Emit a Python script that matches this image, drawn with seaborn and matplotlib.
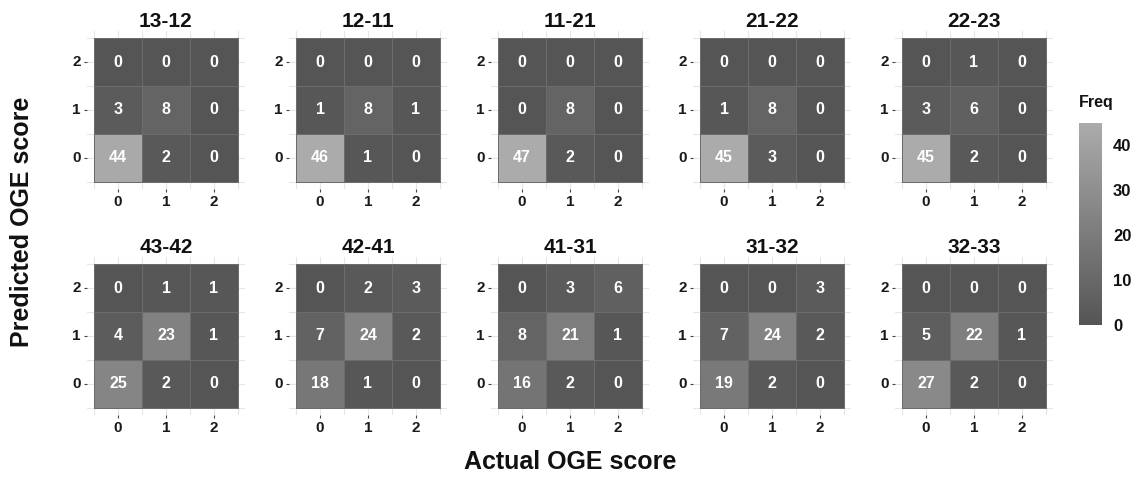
import numpy as np
import pandas as pd
import matplotlib
matplotlib.use("Agg")
import matplotlib.pyplot as plt
from matplotlib.colors import LinearSegmentedColormap
from matplotlib.ticker import FixedLocator
import seaborn as sns

# =====================
# DATA
# =====================
panel_titles = ["13-12", "12-11", "11-21", "21-22", "22-23",
                "43-42", "42-41", "41-31", "31-32", "32-33"]
actual_labels = ["0", "1", "2"]
pred_labels = ["2", "1", "0"]   # top to bottom

# rows = predicted 2, 1, 0 ; cols = actual 0, 1, 2
counts = [
    [[0, 0, 0], [3, 8, 0], [44, 2, 0]],
    [[0, 0, 0], [1, 8, 1], [46, 1, 0]],
    [[0, 0, 0], [0, 8, 0], [47, 2, 0]],
    [[0, 0, 0], [1, 8, 0], [45, 3, 0]],
    [[0, 1, 0], [3, 6, 0], [45, 2, 0]],
    [[0, 1, 1], [4, 23, 1], [25, 2, 0]],
    [[0, 2, 3], [7, 24, 2], [18, 1, 0]],
    [[0, 3, 6], [8, 21, 1], [16, 2, 0]],
    [[0, 0, 3], [7, 24, 2], [19, 2, 0]],
    [[0, 0, 0], [5, 22, 1], [27, 2, 0]],
]

freq_ticks = [0, 10, 20, 30, 40]

# =====================
# STYLE
# =====================
sns.set_theme(style="white")
plt.rcParams["font.family"] = ["Liberation Sans", "DejaVu Sans"]
plt.rcParams["font.weight"] = "bold"

cmap = LinearSegmentedColormap.from_list("greys_ggplot", ["#555555", "#ababab"])
vmin, vmax = 0, 45

W, H = 1136, 478
fig = plt.figure(figsize=(W / 100, H / 100), dpi=100)

col_left = [87, 289, 491, 693, 895]
row_top = [31, 257]
ax_w, ax_h = 158, 158

pad = 0.15
for i, (title, mat) in enumerate(zip(panel_titles, counts)):
    r, c = divmod(i, 5)
    left = col_left[c] / W
    bottom = 1 - (row_top[r] + ax_h) / H
    ax = fig.add_axes([left, bottom, ax_w / W, ax_h / H])
    df = pd.DataFrame(mat, index=pred_labels, columns=actual_labels)
    sns.heatmap(df, ax=ax, cmap=cmap, vmin=vmin, vmax=vmax, cbar=False,
                annot=True, fmt="d", linewidths=0.4, linecolor="#6c6c6c",
                annot_kws={"color": "white", "fontsize": 11.5, "fontweight": "bold"})
    ax.set_xlim(-pad, 3 + pad)
    ax.set_ylim(3 + pad, -pad)
    ax.set_axisbelow(True)
    ax.xaxis.set_minor_locator(FixedLocator([0, 1, 2, 3]))
    ax.yaxis.set_minor_locator(FixedLocator([0, 1, 2, 3]))
    ax.grid(True, which="both", color="#e6e6e6", linewidth=0.8)
    for s in ax.spines.values():
        s.set_visible(False)
    ax.tick_params(axis="both", which="major", length=2.5, width=0.8, color="#444444",
                   labelsize=11, labelcolor="#1a1a1a", pad=2, bottom=True, left=True)
    ax.tick_params(axis="both", which="minor", length=0)
    ax.set_xticklabels(actual_labels, rotation=0, fontweight="bold")
    ax.set_yticklabels(pred_labels, rotation=0, fontweight="bold")
    ax.set_xlabel("")
    ax.set_ylabel("")
    ax.set_title(title, fontsize=15, fontweight="bold", pad=3, color="#111111")

# colorbar
cax = fig.add_axes([1079 / W, 1 - 325 / H, 23 / W, 202 / H])
sm = plt.cm.ScalarMappable(cmap=cmap, norm=plt.Normalize(vmin, vmax))
cb = fig.colorbar(sm, cax=cax)
cb.outline.set_visible(False)
cb.set_ticks(freq_ticks)
cax.tick_params(axis="y", direction="in", length=4, width=0.8, color="white",
                left=True, right=True, labelleft=False, labelright=True,
                labelsize=12, labelcolor="#111111", pad=8)
for t in cax.get_yticklabels():
    t.set_fontweight("bold")
fig.text(1079 / W, 1 - 102 / H, "Freq", fontsize=11.5, fontweight="bold",
         ha="left", va="center", color="#111111")

# shared axis labels
fig.text(22 / W, 1 - 222 / H, "Predicted OGE score", rotation=90, fontsize=18,
         fontweight="bold", ha="center", va="center", color="#111111")
fig.text(570 / W, 1 - 462 / H, "Actual OGE score", fontsize=18,
         fontweight="bold", ha="center", va="center", color="#111111")

fig.savefig("out.png", dpi=100)
plt.close(fig)
